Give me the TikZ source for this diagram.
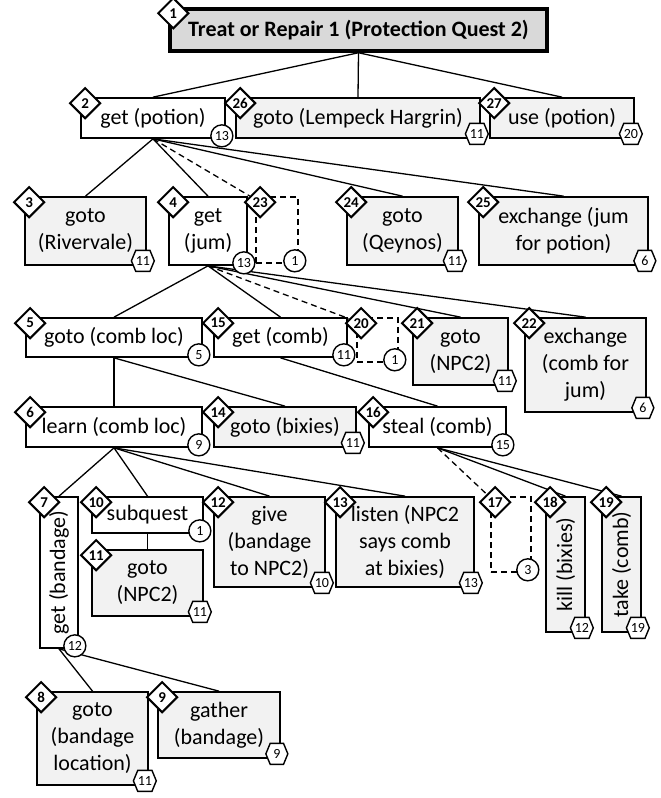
\documentclass[tikz,border=0pt]{standalone}
\usepackage{fontspec}
\setmainfont{Carlito}
\usetikzlibrary{shapes.geometric,shapes.symbols}
\definecolor{leafgray}{HTML}{F2F2F2}
\definecolor{rootgray}{HTML}{D9D9D9}
\tikzset{
  goal/.style={draw, line width=1.7pt, fill=white, inner sep=1pt, align=center, font=\fontsize{22}{27}\selectfont},
  leaf/.style={goal, fill=leafgray},
  ghost/.style={draw, line width=1.6pt, dash pattern=on 6pt off 4pt},
  order/.style={diamond, draw, line width=2pt, fill=white, minimum size=31pt, inner sep=0pt, font=\bfseries\fontsize{15}{15}\selectfont},
  cost/.style={circle, draw, line width=1.4pt, fill=white, minimum size=22pt, inner sep=0pt, font=\fontsize{14}{14}\selectfont},
  hexcost/.style={signal, signal to=east and west, signal pointer angle=135, draw, line width=1.4pt, fill=white, minimum height=21pt, minimum width=22pt, inner sep=0pt, font=\fontsize{14}{14}\selectfont},
  sideways/.style={rotate=90, font=\fontsize{22}{27}\selectfont},
  link/.style={line width=1.3pt},
  optlink/.style={line width=1.3pt, dash pattern=on 6pt off 4pt},
}
\begin{document}
\begin{tikzpicture}[x=1pt, y=-1pt]
    \useasboundingbox (0,0) rectangle (661,798);
    % tasks
    \node[goal, line width=3.5pt, fill=rootgray, font=\bfseries\fontsize{22}{27}\selectfont, minimum width=377pt, minimum height=42pt] (b1) at (358.5,30) {Treat or Repair 1 (Protection Quest 2)};
    \node[goal, minimum width=144pt, minimum height=40pt] (b2) at (153,118) {get (potion)};
    \node[leaf, minimum width=244pt, minimum height=40pt] (b26) at (358,118) {goto (Lempeck Hargrin)};
    \node[leaf, minimum width=144pt, minimum height=40pt] (b27) at (562,118) {use (potion)};
    \node[leaf, minimum width=121pt, minimum height=68pt] (b3) at (85.5,231) {goto\\(Rivervale)};
    \node[goal, minimum width=78pt, minimum height=68pt] (b4) at (208,231) {get\\(jum)};
    \node[ghost, minimum width=42pt, minimum height=66pt] (b23) at (277,230) {};
    \node[leaf, minimum width=111pt, minimum height=68pt] (b24) at (402.5,231) {goto\\(Qeynos)};
    \node[leaf, minimum width=169pt, minimum height=68pt] (b25) at (563.5,231) {exchange (jum\\for potion)};
    \node[goal, minimum width=176pt, minimum height=39pt] (b5) at (114,337.5) {goto (comb loc)};
    \node[goal, minimum width=133pt, minimum height=39pt] (b15) at (280.5,337.5) {get (comb)};
    \node[ghost, minimum width=41pt, minimum height=44pt] (b20) at (377.5,340) {};
    \node[leaf, minimum width=95pt, minimum height=67pt] (b21) at (460.5,351.5) {goto\\(NPC2)};
    \node[leaf, minimum width=121pt, minimum height=94pt] (b22) at (585.5,365) {exchange\\(comb for\\jum)};
    \node[goal, minimum width=176pt, minimum height=40pt] (b6) at (114,427) {learn (comb loc)};
    \node[leaf, minimum width=142pt, minimum height=40pt] (b14) at (285,427) {goto (bixies)};
    \node[goal, minimum width=137pt, minimum height=40pt] (b16) at (437.5,427) {steal (comb)};
    \node[goal, minimum width=38pt, minimum height=151pt, label={[sideways]center:get (bandage)}] (b7) at (59,572.5) {};
    \node[goal, minimum width=111pt, minimum height=36pt] (b10) at (147.5,515) {subquest};
    \node[leaf, minimum width=111pt, minimum height=66pt] (b11) at (147.5,583) {goto\\(NPC2)};
    \node[leaf, minimum width=111pt, minimum height=90pt] (b12) at (269.5,542) {give\\(bandage\\to NPC2)};
    \node[leaf, minimum width=138pt, minimum height=90pt] (b13) at (405,542) {listen (NPC2\\says comb\\at bixies)};
    \node[ghost, minimum width=40pt, minimum height=75pt] (b17) at (511,534.5) {};
    \node[leaf, minimum width=39pt, minimum height=135pt, label={[sideways]center:kill (bixies)}] (b18) at (565.5,564.5) {};
    \node[leaf, minimum width=39pt, minimum height=135pt, label={[sideways]center:take (comb)}] (b19) at (621.5,564.5) {};
    \node[leaf, minimum width=111pt, minimum height=93pt] (b8) at (92.5,738.5) {goto\\(bandage\\location)};
    \node[leaf, minimum width=122pt, minimum height=66pt] (b9) at (219,725) {gather\\(bandage)};
    % decomposition links
    \foreach \p/\c in {1/2, 1/26, 1/27, 2/3, 2/4, 2/24, 2/25, 4/5, 4/15, 4/21, 4/22,
                       5/6, 5/14, 15/16, 6/7, 6/10, 6/12, 6/13, 10/11, 16/18, 16/19, 7/8, 7/9}
        \draw[link] (b\p.south) -- (b\c.north);
    % badges
    \foreach \n in {1,...,27}
        \node[order] (d\n) at ([shift={(5pt,-6pt)}]b\n.north west) {\n};
    \foreach \n/\c in {2/13, 4/13, 23/1, 5/5, 15/11, 20/1, 6/9, 16/15, 7/12, 10/1, 17/3}
        \node[cost] (c\n) at ([shift={(-4pt,3pt)}]b\n.south east) {\c};
    \foreach \n/\c in {26/11, 27/20, 3/11, 24/11, 25/6, 21/11, 22/6, 14/11, 11/11,
                       12/10, 13/13, 18/12, 19/19, 8/11, 9/9}
        \node[hexcost] (c\n) at ([shift={(-4pt,5pt)}]b\n.south east) {\c};
    \draw[optlink] (b2.south) -- (d23);
    \draw[optlink] (b4.south) -- (d20);
    \draw[optlink] (b16.south) -- (d17);
\end{tikzpicture}
\end{document}
